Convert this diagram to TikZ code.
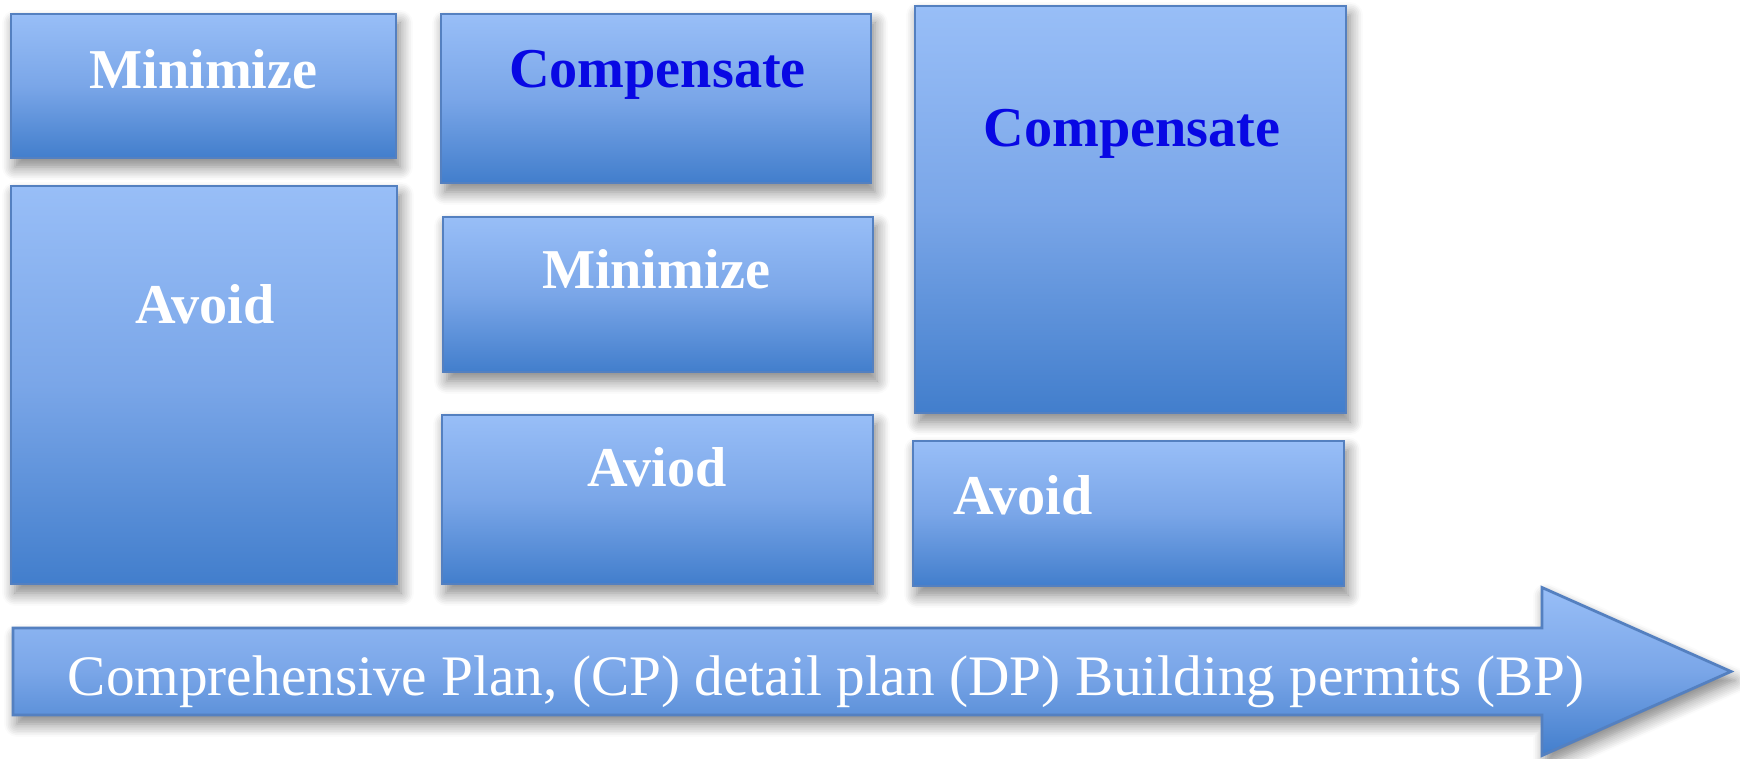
\documentclass[tikz,border=0pt]{standalone}
\usepackage{fontspec}
\setmainfont{Liberation Serif}
\usetikzlibrary{shadows.blur}
\definecolor{boxtop}{RGB}{152,190,247}
\definecolor{boxmid}{RGB}{122,166,232}
\definecolor{boxbot}{RGB}{66,126,204}
\definecolor{boxline}{RGB}{84,128,192}
\definecolor{compblue}{RGB}{8,8,228}
\tikzset{
  box/.style={draw=boxline, line width=0.8pt, top color=boxtop, bottom color=boxbot, middle color=boxmid,
    blur shadow={shadow xshift=0.04cm, shadow yshift=-0.09cm, shadow blur steps=8, shadow blur radius=0.8ex, shadow opacity=50}},
  lbl/.style={text=white, font=\bfseries\fontsize{16}{19}\selectfont, anchor=base},
  comp/.style={lbl, text=compblue},
  plantxt/.style={text=white, font=\fontsize{16.3}{19}\selectfont, anchor=base}
}
\begin{document}
\begin{tikzpicture}
\useasboundingbox (0,0) rectangle (17.4,7.58);
% first column
\node [box, minimum width=3.85cm, minimum height=1.44cm] (min1) at (2.035,6.72) {};
\node [box, minimum width=3.86cm, minimum height=3.98cm] (av1) at (2.04,3.73) {};
\node [lbl] (min1txt) at (2.035,6.70) {Minimize};
\node [lbl] (av1txt) at (2.05,4.35) {Avoid};
% second column
\node [box, minimum width=4.30cm, minimum height=1.69cm] (comp2) at (6.56,6.595) {};
\node [box, minimum width=4.30cm, minimum height=1.55cm] (min2) at (6.58,4.635) {};
\node [box, minimum width=4.31cm, minimum height=1.69cm] (av2) at (6.575,2.585) {};
\node [comp] (comp2txt) at (6.575,6.71) {Compensate};
\node [lbl] (min2txt) at (6.56,4.70) {Minimize};
\node [lbl] (av2txt) at (6.57,2.72) {Aviod};
% third column
\node [box, minimum width=4.31cm, minimum height=4.07cm] (comp3) at (11.305,5.485) {};
\node [box, minimum width=4.31cm, minimum height=1.45cm] (av3) at (11.285,2.445) {};
\node [comp] (comp3txt) at (11.32,6.12) {Compensate};
\node [lbl] (av3txt) at (10.23,2.44) {Avoid};
% time line
\draw [box] (0.13,0.43) -- (15.42,0.43) -- (15.42,0.025) -- (17.31,0.865) -- (15.42,1.705) -- (15.42,1.30) -- (0.13,1.30) -- cycle;
\node [plantxt] (plan) at (8.26,0.63) {Comprehensive Plan, (CP) detail plan (DP) Building permits (BP)};
\end{tikzpicture}
\end{document}
